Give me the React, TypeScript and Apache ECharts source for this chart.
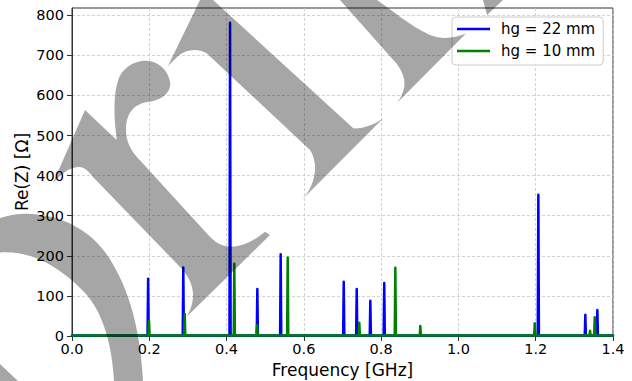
import React, { useEffect, useRef } from "react";
import * as echarts from "echarts";

// ---- data ----
const xTicks = [0, 0.2, 0.4, 0.6, 0.8, 1.0, 1.2, 1.4];
const yTicks = [0, 100, 200, 300, 400, 500, 600, 700, 800];
const seriesNames = ["hg = 22 mm", "hg = 10 mm"];
const seriesColors = ["#0000ff", "#008000"];
// resonance peaks: [frequency GHz, Re(Z) Ω]
const peaks22: [number, number][] = [
  [0.197, 143], [0.288, 171], [0.409, 781], [0.4796, 117], [0.54, 204],
  [0.7032, 135], [0.7368, 117], [0.772, 88], [0.808, 132], [1.2068, 352],
  [1.3284, 53], [1.3595, 65],
];
const peaks10: [number, number][] = [
  [0.1993, 38], [0.2917, 55], [0.42, 180], [0.4788, 27], [0.5582, 196],
  [0.7435, 33], [0.8367, 170], [0.9014, 25], [1.1975, 32], [1.3406, 13],
  [1.3527, 47],
];
const baseline = [1, 1];
const peakHalfWidth = 0.0015;
const xRange = [0, 1.4];
const yMax = 818;

// ---- watermark outlines (decoration) ----
const WM_PATH =
  // ring
  "M -5 220 C 30 205, 80 218, 105 252 C 125 280, 140 320, 143 381 L 143 392 L 114 392 L 114 381 C 112 340, 100 305, 80 288 C 60 268, 30 248, -5 253 Z " +
  // bottom-left corner piece
  "M -5 360 L 0 364 L 18 381 L 20 392 L -5 392 Z " +
  // r-like glyph
  "M 85 110 L 53 183 C 60 175, 70 166, 80 167 C 86 168, 90 173, 93 177 L 180 267 C 188 275, 193 285, 193 295 C 193 304, 190 311, 186.7 316.7 L 270 235 L 265 231.7 C 255 240, 240 249, 225 246 C 216 244, 211 238, 206.7 233.3 L 136.7 156.7 C 130 149, 126 140, 126 130 C 126 112, 135 103, 150 101.7 C 162 100, 172 92, 170 81.7 C 168 70, 158 61, 146.7 60.7 C 133 60, 121 70, 118.3 80 C 114 92, 114 110, 115 123.3 L 116.7 140 Z " +
  // central band
  "M 168 66 L 200 0 L 202 -5 L 208 -5 L 213 0 L 353.3 128.3 C 362 129, 374 125, 383.3 118.3 L 301.7 200 C 310 192, 316 178, 315 165 C 314 157, 312 153, 310 150 L 206.7 53.3 C 198 48, 186 49, 178 56 Z " +
  // right band
  "M 336 -5 L 340 0 L 393.3 60 C 401 68, 406 78, 404 88 C 403 94, 400 99, 396.7 103.3 L 466 33.5 C 455 38, 442 40, 430 35 C 410 26, 392 10, 377 0 L 372 -5 Z " +
  // small top piece
  "M 482 -5 L 483 0 L 487 15 L 503 0 L 508 -5 Z";

let registered = false;
function ensureShapes() {
  if (registered) return;
  echarts.graphic.registerShape("wmark", echarts.graphic.extendPath(WM_PATH, {}));
  registered = true;
}

function buildLine(peaks: [number, number][], base: number): [number, number][] {
  const pts: [number, number][] = [[xRange[0], base]];
  const sorted = [...peaks].sort((a, b) => a[0] - b[0]);
  for (const [f, h] of sorted) {
    pts.push([f - peakHalfWidth, base]);
    pts.push([f, h]);
    pts.push([f + peakHalfWidth, base]);
  }
  pts.push([xRange[1], base]);
  return pts;
}

const FONT = "DejaVu Sans";

export default function App() {
  const ref = useRef<HTMLDivElement>(null);
  useEffect(() => {
    if (!ref.current) return;
    ensureShapes();
    const chart = echarts.init(ref.current, undefined, { renderer: "svg" });
    const allPeaks = [peaks22, peaks10];
    chart.setOption({
      animation: false,
      backgroundColor: "#ffffff",
      textStyle: { fontFamily: FONT },
      grid: {
        left: 72,
        right: 19,
        top: 8,
        bottom: 45,
        show: true,
        borderColor: "#333",
        borderWidth: 1,
        backgroundColor: "transparent",
      },
      legend: {
        data: seriesNames.map((n) => ({ name: n, icon: "rect" })),
        orient: "vertical",
        left: 452,
        top: 17,
        itemWidth: 33,
        itemHeight: 2.5,
        itemGap: 4,
        padding: [3, 8, 5, 5],
        backgroundColor: "rgba(255,255,255,0.8)",
        borderColor: "#cccccc",
        borderWidth: 1,
        borderRadius: 4,
        textStyle: { fontSize: 15, color: "#000", fontFamily: FONT, lineHeight: 18, padding: [0, 0, 0, 6] },
      },
      xAxis: {
        type: "value",
        min: xRange[0],
        max: xRange[1],
        interval: 0.2,
        axisLine: { show: true, onZero: false, lineStyle: { color: "#333", width: 1 } },
        axisTick: { show: true, length: 5, lineStyle: { color: "#333" } },
        axisLabel: {
          margin: 5,
          fontSize: 14.5,
          color: "#000",
          fontFamily: FONT,
          formatter: (v: number) => {
            const t = xTicks.find((x) => Math.abs(x - v) < 1e-6);
            return t === undefined ? "" : t.toFixed(1);
          },
        },
        splitLine: { show: true, lineStyle: { color: "#c8c8c8", type: [3, 2], width: 0.8 } },
      },
      yAxis: {
        type: "value",
        min: 0,
        max: yMax,
        interval: 100,
        axisLine: { show: true, lineStyle: { color: "#333", width: 1 } },
        axisTick: { show: true, length: 5, lineStyle: { color: "#333" }, customValues: yTicks },
        axisLabel: {
          margin: 8,
          fontSize: 14.5,
          color: "#000",
          fontFamily: FONT,
          customValues: yTicks,
          formatter: (v: number) => (yTicks.includes(v) ? String(v) : ""),
        },
        splitLine: { show: true, lineStyle: { color: "#c8c8c8", type: [3, 2], width: 0.8 } },
      },
      series: seriesNames.map((name, i) => ({
        name,
        type: "line",
        data: buildLine(allPeaks[i], baseline[i]),
        symbol: "none",
        showSymbol: false,
        color: seriesColors[i],
        lineStyle: { color: seriesColors[i], width: 2.5, cap: "round", join: "round" },
        z: 2 + i,
      })),
      graphic: [
        {
          type: "text",
          x: 342.5,
          y: 370,
          z: 50,
          style: {
            text: "Frequency [GHz]",
            fontSize: 17,
            fontFamily: FONT,
            fill: "#000",
            textAlign: "center",
            textVerticalAlign: "middle",
          },
        },
        {
          type: "text",
          x: 22,
          y: 172,
          rotation: Math.PI / 2,
          z: 50,
          style: {
            text: "Re(Z) [Ω]",
            fontSize: 17,
            fontFamily: FONT,
            fill: "#000",
            textAlign: "center",
            textVerticalAlign: "middle",
          },
        },
        {
          type: "wmark",
          x: 0,
          y: 0,
          z: 100,
          silent: true,
          style: { fill: "rgba(0,0,0,0.35)", stroke: "none" },
        },
      ],
    });
    return () => chart.dispose();
  }, []);
  return (
    <div
      ref={ref}
      style={{ position: "fixed", left: 0, top: 0, width: 632, height: 381, background: "#fff" }}
    />
  );
}
